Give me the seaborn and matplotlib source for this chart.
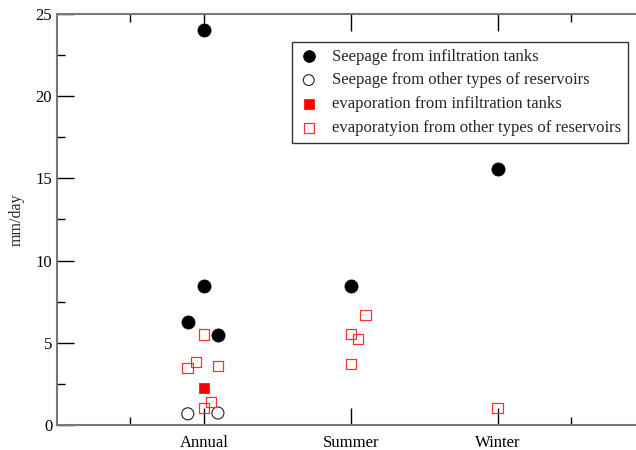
import seaborn as sns
import matplotlib
matplotlib.use('Agg')
import matplotlib.pyplot as plt
import numpy as np
import pandas as pd

# categories on the x axis (1 = Annual, 2 = Summer, 3 = Winter)
categories = ['Annual', 'Summer', 'Winter']

# seepage from infiltration tanks
seep_tank_x = [1.0, 1.0, 0.89, 1.095, 2.0, 3.0]
seep_tank_y = [24.0, 8.45, 6.25, 5.5, 8.45, 15.6]

# seepage from other reservoirs
seep_other_x = [0.89, 1.095]
seep_other_y = [0.68, 0.73]

# evaporation from infiltration tanks
evap_tank_x = [1.0]
evap_tank_y = [2.25]

# evaporation from other reservoirs
evap_other_x = [1.0, 0.946, 0.89, 1.095, 1.048, 1.0, 2.10, 2.0, 2.048, 2.0, 3.0]
evap_other_y = [5.5, 3.83, 3.47, 3.59, 1.4, 1.03, 6.69, 5.53, 5.23, 3.71, 1.03]

sns.set_style('white')
plt.rcParams['font.family'] = ['Liberation Serif', 'DejaVu Serif']

fig = plt.figure(figsize=(6.36, 4.5), dpi=100)
ax = fig.add_axes([57/636, 25/450, 1 - 57/636, 411/450])

sns.scatterplot(x=seep_tank_x, y=seep_tank_y, ax=ax, marker='o', s=90,
                color='black', edgecolor='black', linewidth=0.5,
                label='Seepage from infiltration tanks', zorder=4)
sns.scatterplot(x=seep_other_x, y=seep_other_y, ax=ax, marker='o', s=75,
                facecolors='none', edgecolors='#222222', linewidth=0.8,
                label='Seepage from other types of reservoirs', zorder=4)
sns.scatterplot(x=evap_tank_x, y=evap_tank_y, ax=ax, marker='s', s=60,
                color='red', edgecolor='red', linewidth=0.5,
                label='evaporation from infiltration tanks', zorder=4)
sns.scatterplot(x=evap_other_x, y=evap_other_y, ax=ax, marker='s', s=60,
                facecolors='none', edgecolors='#ff3030', linewidth=0.9,
                label='evaporatyion from other types of reservoirs', zorder=4)

ax.set_xlim(0, 3.94)
ax.set_ylim(0, 25)
ax.set_xticks([1, 2, 3])
ax.set_xticklabels(categories)
ax.set_xticks([0.5, 3.5], minor=True)
ax.set_yticks([0, 5, 10, 15, 20, 25])
ax.set_yticks(np.arange(2.5, 25, 5), minor=True)
ax.tick_params(which='both', direction='in', top=True, bottom=True, left=True,
               right=False, colors='black', labelsize=12, width=1.0)
ax.tick_params(which='major', length=12)
ax.tick_params(which='minor', length=6)
ax.tick_params(axis='x', pad=7)
for side in ['left', 'bottom', 'top']:
    ax.spines[side].set_color('#777777')
    ax.spines[side].set_linewidth(1.5)
ax.spines['right'].set_visible(False)

ax.set_ylabel('mm/day', fontsize=11.5)
ax.yaxis.set_label_coords(-0.055, 0.5)

leg = ax.legend(loc='upper left', bbox_to_anchor=(0.406, 0.932), fontsize=12,
                frameon=True, fancybox=False, edgecolor='black',
                handlelength=1.2, handletextpad=0.8, borderpad=0.4,
                labelspacing=0.47, borderaxespad=0, markerscale=0.9)
leg.get_frame().set_linewidth(1.0)

fig.savefig('out.png', dpi=100)
